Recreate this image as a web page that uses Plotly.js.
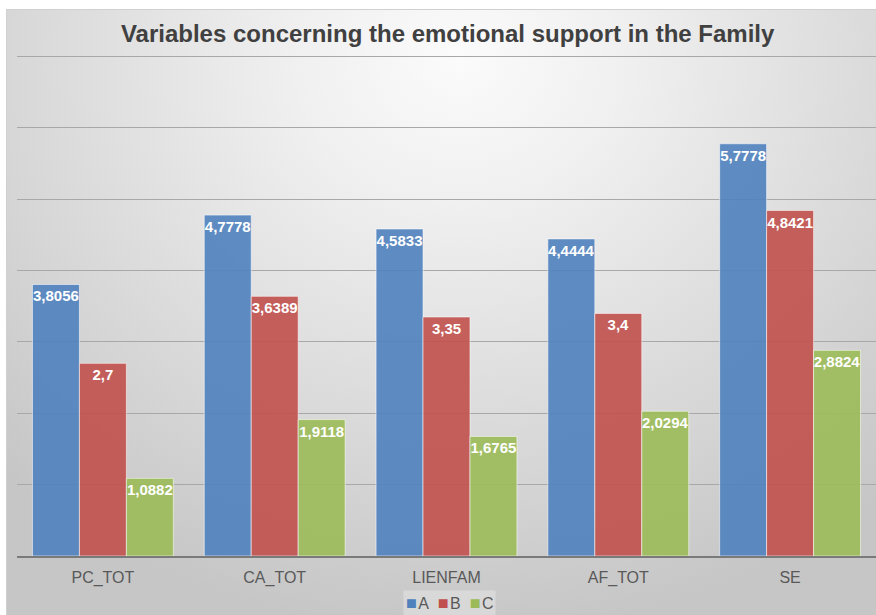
<!DOCTYPE html>
<html>
<head>
<meta charset="utf-8">
<script src="https://cdn.plot.ly/plotly-3.0.1.min.js"></script>
<style>
  html, body { margin: 0; padding: 0; background: #ffffff; }
  #wrap { position: relative; width: 876px; height: 615px; overflow: hidden; background: #ffffff; }
  #bg { position: absolute; left: 6px; top: 9px; width: 870px; height: 606px;
        border-top: 1px solid #d0d0d0; border-left: 1px solid #d0d0d0;
        background: radial-gradient(ellipse 75% 95% at 52% 8%, #fbfbfb 0%, #f0f0f0 25%, #e2e2e2 50%, #d4d4d4 75%, #c6c6c6 100%); }
  #chart { position: absolute; left: 0; top: 0; width: 876px; height: 615px; }
</style>
</head>
<body>
<div id="wrap">
  <div id="bg"></div>
  <div id="chart"></div>
</div>
<script>
const categories = ["PC_TOT", "CA_TOT", "LIENFAM", "AF_TOT", "SE"];
const seriesNames = ["A", "B", "C"];
const valuesA = [3.8056, 4.7778, 4.5833, 4.4444, 5.7778];
const valuesB = [2.7, 3.6389, 3.35, 3.4, 4.8421];
const valuesC = [1.0882, 1.9118, 1.6765, 2.0294, 2.8824];
const chartTitle = "Variables concerning the emotional support in the Family";

const colors = ["rgba(79,129,189,0.9)", "rgba(192,80,77,0.9)", "rgba(155,187,89,0.9)"];
const legendColors = ["#4f81bd", "#c0504d", "#9bbb59"];
const allValues = [valuesA, valuesB, valuesC];

function fmt(v) { return String(v).replace('.', ','); }

const traces = allValues.map((vals, i) => ({
  type: 'bar',
  name: seriesNames[i],
  x: categories,
  y: vals,
  text: vals.map(fmt),
  textposition: 'inside',
  insidetextanchor: 'end',
  constraintext: 'none',
  textangle: 0,
  textfont: { family: 'Liberation Sans, Arial, sans-serif', size: 15, color: '#ffffff', weight: 'bold' },
  marker: { color: colors[i], line: { color: 'rgba(255,255,255,0.55)', width: 1 } },
  hoverinfo: 'skip'
}));

const legendText = seriesNames.map((n, i) =>
  '<span style="color:' + legendColors[i] + ';font-size:18px">■</span><span style="font-size:5px"> </span>' + n
).join('&nbsp;&nbsp;');

const layout = {
  width: 876,
  height: 615,
  paper_bgcolor: 'rgba(0,0,0,0)',
  plot_bgcolor: 'rgba(0,0,0,0)',
  margin: { l: 17, r: 0, t: 53, b: 59 },
  barmode: 'group',
  bargap: 0.18,
  bargroupgap: 0,
  font: { family: 'Liberation Sans, Arial, sans-serif', color: '#595959' },
  title: {
    text: '<b>' + chartTitle + '</b>',
    font: { family: 'Liberation Sans, Arial, sans-serif', size: 24, color: '#404040' },
    x: 0.511, xanchor: 'center',
    y: 0.946, yanchor: 'middle'
  },
  xaxis: {
    showline: true, linecolor: '#7a7a7a', linewidth: 1.5,
    ticks: '', tickfont: { size: 16, color: '#595959' }, ticklabelstandoff: 6,
    showgrid: false, zeroline: false, fixedrange: true
  },
  yaxis: {
    range: [0, 7.05], tick0: 0, dtick: 1, showticklabels: false,
    showgrid: true, gridcolor: '#a8a8a8', gridwidth: 1,
    zeroline: false, showline: false, ticks: '', fixedrange: true
  },
  showlegend: false,
  annotations: [{
    xref: 'paper', yref: 'paper',
    x: 0.503, xanchor: 'center', y: -0.094, yanchor: 'middle',
    text: legendText, showarrow: false,
    font: { size: 16, color: '#595959' },
    bgcolor: 'rgba(235,235,235,0.45)', borderpad: 2
  }]
};

Plotly.newPlot('chart', traces, layout, { displayModeBar: false, staticPlot: true });
</script>
</body>
</html>
